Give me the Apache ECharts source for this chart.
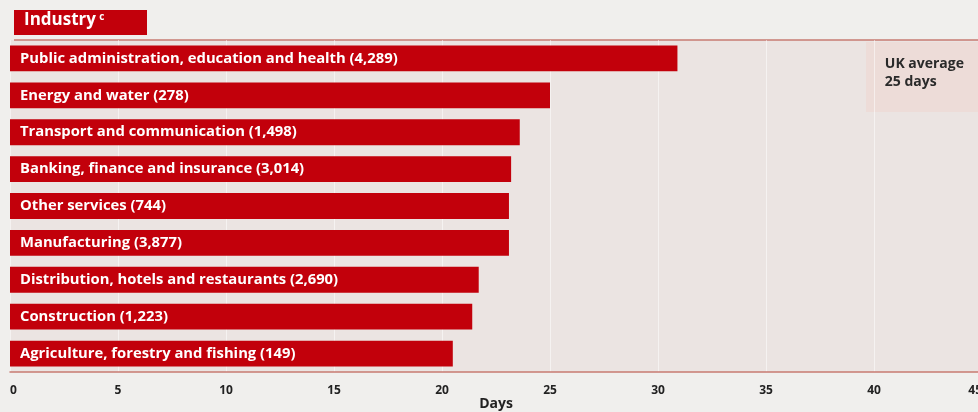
<!DOCTYPE html>
<html>
<head>
<meta charset="utf-8">
<script src="https://cdn.jsdelivr.net/npm/echarts@6/dist/echarts.min.js"></script>
<style>
html,body{margin:0;padding:0;background:#f0efed;overflow:hidden;width:100%;height:100%;}
#c{width:100vw;height:100vh;}
</style>
</head>
<body>
<div id="c"></div>
<script>
const categories = [
  "Public administration, education and health (4,289)",
  "Energy and water (278)",
  "Transport and communication (1,498)",
  "Banking, finance and insurance (3,014)",
  "Other services (744)",
  "Manufacturing (3,877)",
  "Distribution, hotels and restaurants (2,690)",
  "Construction (1,223)",
  "Agriculture, forestry and fishing (149)"
];
const days = [30.9, 25.0, 23.6, 23.2, 23.1, 23.1, 21.7, 21.4, 20.5];
const xTicks = [0, 5, 10, 15, 20, 25, 30, 35, 40, 45];
const ukAverage = 25;

const chart = echarts.init(document.getElementById('c'), null, {renderer: 'canvas'});
const FONT = '"Open Sans", Lato, sans-serif';
chart.setOption({
  backgroundColor: '#f0efed',
  animation: false,
  grid: {
    left: 10, top: 40, right: -4, bottom: 40,
    containLabel: false, outerBoundsMode: 'none',
    show: true, backgroundColor: '#ebe4e2', borderWidth: 0
  },
  xAxis: {
    type: 'value', min: xTicks[0], max: xTicks[xTicks.length - 1], interval: 5,
    axisLine: {show: true, lineStyle: {color: '#c77b72', width: 1.5}},
    axisTick: {show: false},
    splitLine: {show: true, lineStyle: {color: '#ffffff', width: 1, opacity: 0.5}},
    axisLabel: {
      margin: 13, color: '#222', fontWeight: 'bold', fontSize: 12, fontFamily: FONT,
      alignMinLabel: 'left', alignMaxLabel: 'right',
      formatter: v => xTicks.includes(v) ? String(v) : ''
    },
    name: 'Days', nameLocation: 'middle', nameGap: 25, nameMoveOverlap: false,
    nameTextStyle: {color: '#222', fontWeight: 'bold', fontSize: 14, fontFamily: FONT}
  },
  yAxis: {
    type: 'category', data: categories, inverse: true,
    axisLine: {show: false}, axisTick: {show: false}, axisLabel: {show: false},
    splitLine: {show: false}
  },
  series: [{
    type: 'bar', data: days, barCategoryGap: '30%',
    itemStyle: {color: '#c2000b'},
    label: {
      show: true, position: 'insideLeft', distance: 10,
      formatter: p => categories[p.dataIndex],
      color: '#ffffff', fontWeight: 'bold', fontSize: 14.8, fontFamily: FONT
    }
  }],
  graphic: [
    {type: 'line', shape: {x1: 14, y1: 40, x2: 978, y2: 40}, style: {stroke: '#c77b72', lineWidth: 1.5}},
    {type: 'rect', shape: {x: 14, y: 10, width: 133, height: 25}, style: {fill: '#c2000b'}},
    {type: 'text', left: 24, top: 12, style: {
      text: '{a|Industry} {b|c}',
      rich: {
        a: {fill: '#fff', fontWeight: 'bold', fontSize: 17, fontFamily: FONT},
        b: {fill: '#fff', fontWeight: 'bold', fontSize: 10, fontFamily: FONT, verticalAlign: 'top', padding: [0,0,6,0]}
      }
    }},
    {type: 'rect', shape: {x: 866, y: 42, width: 112, height: 70}, style: {fill: '#eddcd8'}},
    {type: 'text', right: 14, top: 55, style: {
      text: 'UK average\n' + ukAverage + ' days', align: 'right',
      fill: '#2a2a2a', fontWeight: 'bold', fontSize: 14, fontFamily: FONT, lineHeight: 18
    }}
  ]
});
</script>
</body>
</html>
